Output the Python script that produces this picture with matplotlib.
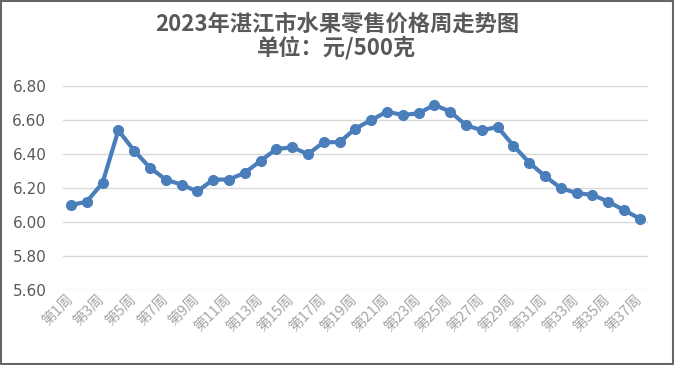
import matplotlib.pyplot as plt
from matplotlib.patches import Rectangle

plt.rcParams['font.family'] = ['Noto Sans CJK SC', 'DejaVu Sans']

# weekly retail fruit price, yuan per 500 g
weeks = ['第%d周' % i for i in range(1, 38)]
prices = [6.10, 6.12, 6.23, 6.54, 6.42, 6.32, 6.25, 6.22, 6.18, 6.25,
          6.25, 6.29, 6.36, 6.43, 6.44, 6.40, 6.47, 6.47, 6.55, 6.60,
          6.65, 6.63, 6.64, 6.69, 6.65, 6.57, 6.54, 6.56, 6.45, 6.35,
          6.27, 6.20, 6.17, 6.16, 6.12, 6.07, 6.02]
y_ticks = [5.60, 5.80, 6.00, 6.20, 6.40, 6.60, 6.80]

title1 = '2023年湛江市水果零售价格周走势图'
title2 = '单位：元/500克'

fig = plt.figure(figsize=(6.74, 3.65), dpi=100)
ax = fig.add_axes([0.0935, 0.2055, 0.8675, 0.5585])

x = list(range(len(weeks)))
ax.plot(x, prices, color='#4a7ebb', lw=3, marker='o', markersize=7,
        markerfacecolor='#4a7ebb', markeredgecolor='#4a7ebb', zorder=3)

ax.set_xlim(-0.5, len(weeks) - 0.5)
ax.set_ylim(5.60, 6.80)
ax.set_yticks(y_ticks)
ax.set_yticklabels(['%.2f' % v for v in y_ticks], color='#595959',
                   fontsize=11, family='DejaVu Sans')
ax.set_xticks(x[::2])
ax.set_xticklabels(weeks[::2], rotation=45, ha='right', va='center',
                   rotation_mode='anchor', color='#a6a6a6', fontsize=10.5)
ax.tick_params(axis='both', length=0)
ax.tick_params(axis='x', pad=5)
ax.tick_params(axis='y', pad=12)
ax.grid(axis='y', color='#d9d9d9', lw=1)
ax.set_axisbelow(True)
for s in ax.spines.values():
    s.set_visible(False)

fig.text(0.5, 1 - 24 / 365, title1, ha='center', va='center',
         fontsize=16, fontweight='bold', color='#595959')
fig.text(0.5, 1 - 48 / 365, title2, ha='center', va='center',
         fontsize=16, fontweight='bold', color='#595959')

fig.patches.append(Rectangle((0.002, 0.003), 0.996, 0.994, transform=fig.transFigure,
                             fill=False, edgecolor='#666666', lw=1.5))

fig.savefig('out.png', dpi=100)
